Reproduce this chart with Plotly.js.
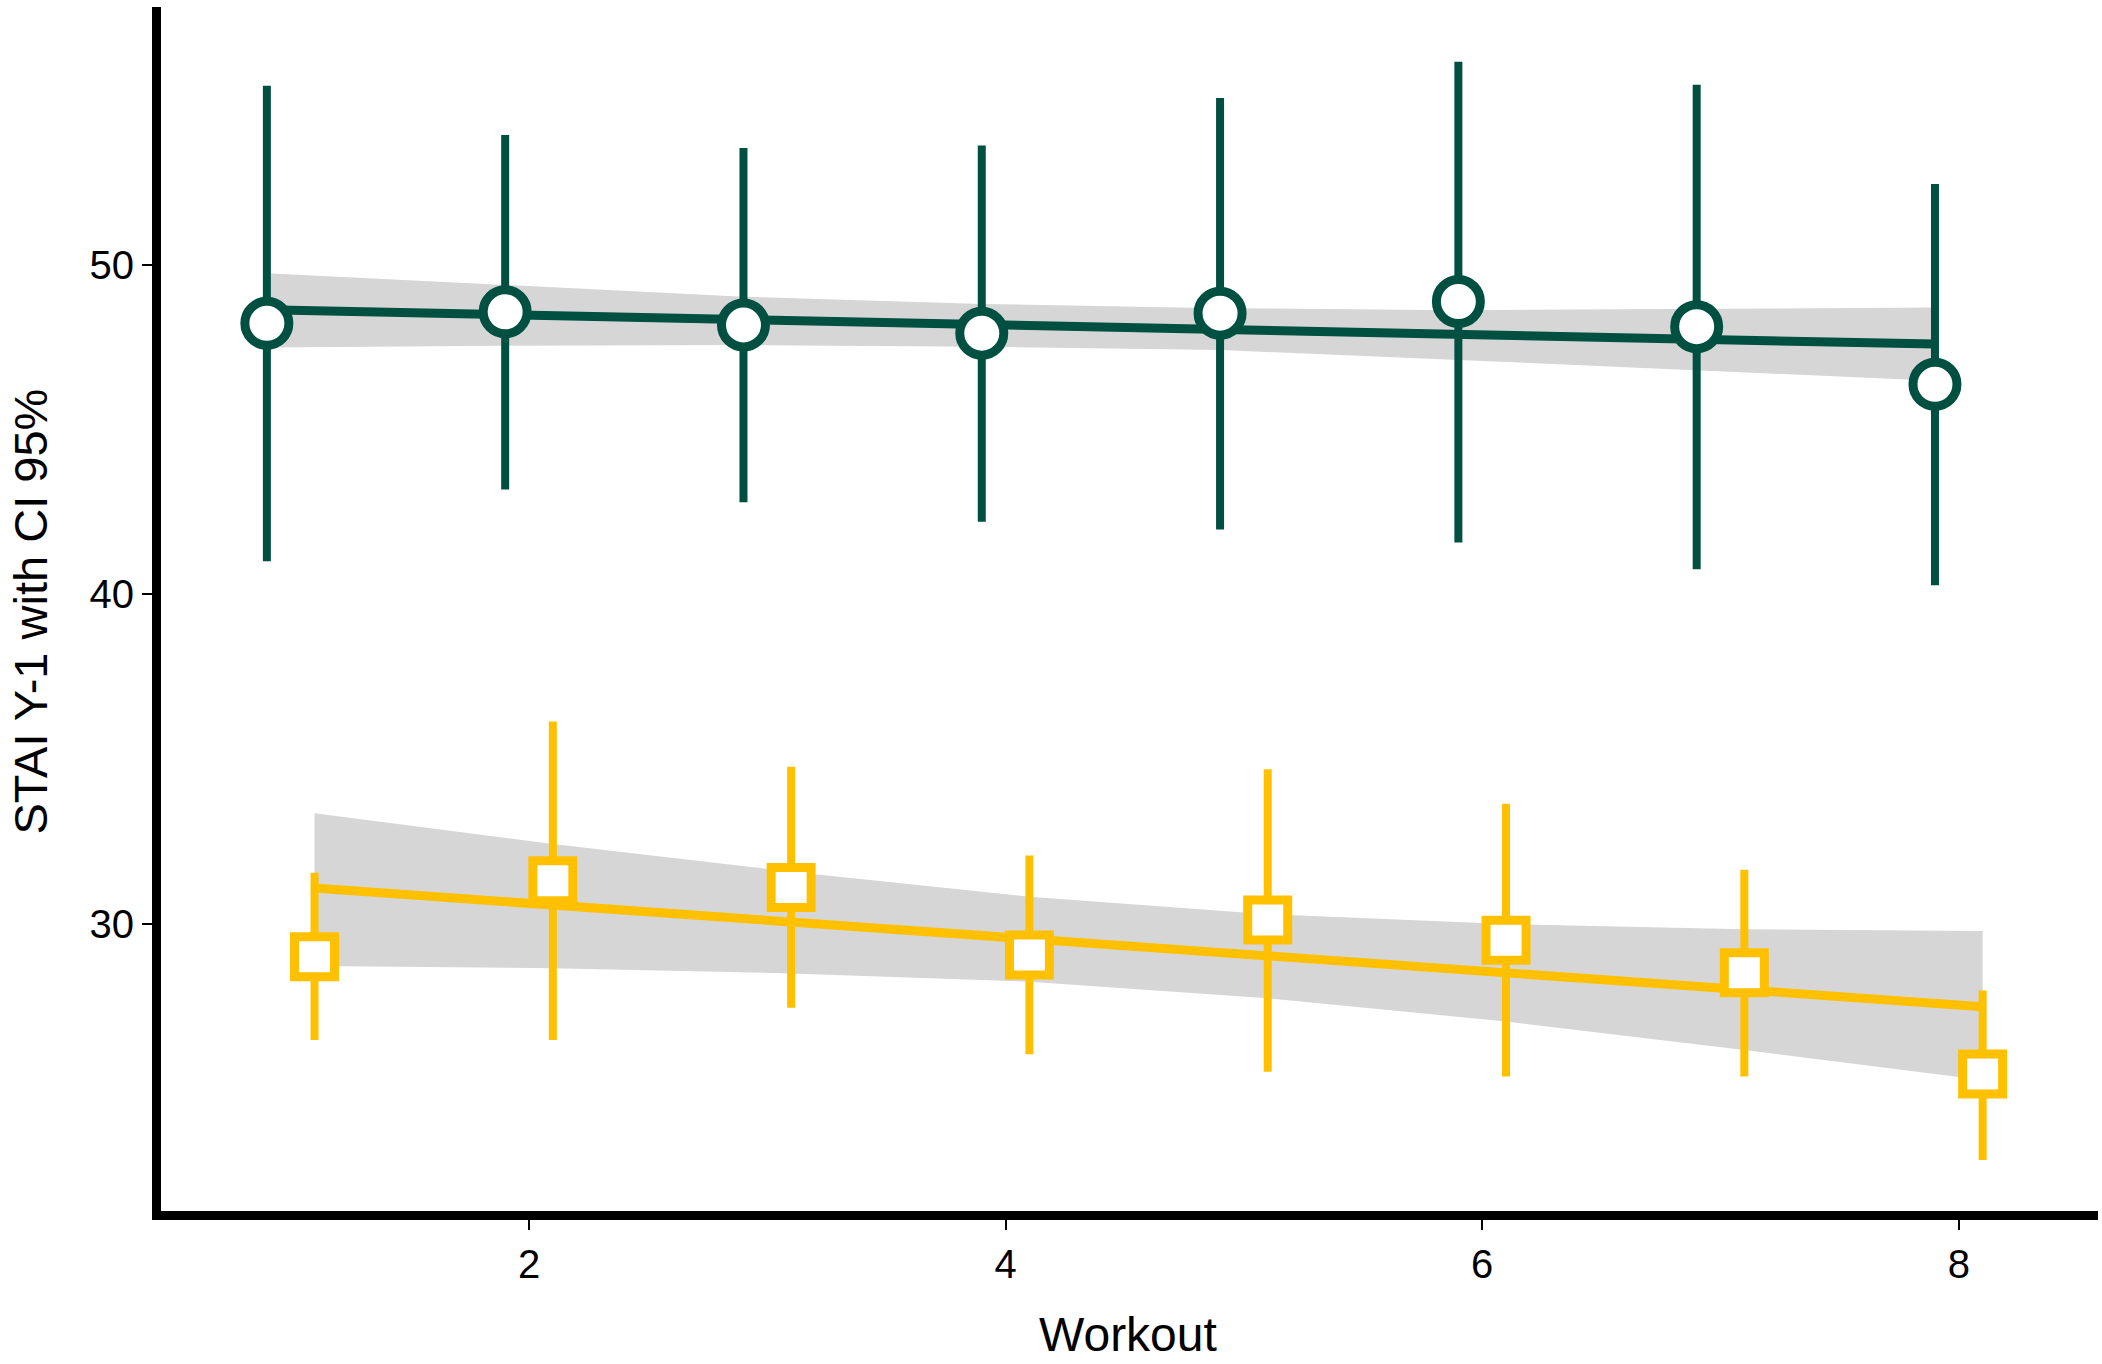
<!DOCTYPE html>
<html>
<head>
<meta charset="utf-8">
<script src="https://cdn.plot.ly/plotly-3.0.1.min.js"></script>
<style>
  html, body { margin: 0; padding: 0; background: #ffffff; }
  #chart { width: 2102px; height: 1364px; }
</style>
</head>
<body>
<div id="chart"></div>
<script>
// ---- Data ----
const workouts = [1, 2, 3, 4, 5, 6, 7, 8];

// Group A (dark green circles)
const greenMean = [48.22, 48.57, 48.17, 47.92, 48.53, 48.88, 48.12, 46.37];
const greenHi   = [55.43, 53.94, 53.54, 53.62, 55.06, 56.16, 55.46, 52.45];
const greenLo   = [41.00, 43.18, 42.79, 42.20, 41.96, 41.57, 40.76, 40.27];
const greenFitX = [1, 8];
const greenFitY = [48.63, 47.59];
const greenBandUpper = [49.74, 49.38, 49.03, 48.81, 48.68, 48.62, 48.65, 48.70];
const greenBandLower = [47.49, 47.54, 47.56, 47.51, 47.41, 47.11, 46.80, 46.48];

// Group B (yellow squares)
const yellowMean = [29.00, 31.30, 31.10, 29.05, 30.11, 29.50, 28.51, 25.44];
const yellowHi   = [31.55, 36.14, 34.76, 32.07, 34.69, 33.64, 31.64, 27.97];
const yellowLo   = [26.47, 26.47, 27.45, 26.04, 25.51, 25.36, 25.36, 22.83];
const yellowFitX = [1, 8];
const yellowFitY = [31.08, 27.48];
const yellowBandUpper = [33.35, 32.42, 31.58, 30.82, 30.29, 29.99, 29.83, 29.78];
const yellowBandLower = [28.72, 28.65, 28.49, 28.24, 27.74, 27.03, 26.17, 25.26];

const xTicks = [2, 4, 6, 8];
const yTicks = [30, 40, 50];

// ---- Styling ----
const GREEN = '#005041';
const YELLOW = '#FFC000';
const BAND = '#D6D6D6';
const FONT = 'Liberation Sans, Arial, Helvetica, sans-serif';
const dodge = 0.1;

const W = 2102, H = 1364;
const m = {l: 161, r: 4, t: 7, b: 153};
// pixel -> data calibration derived from reference tick positions
const px2x = p => (p - 52.4) / 238.3;
const px2y = p => 50 - (p - 264.7) / 32.95;

const shift = (arr, d) => arr.map(v => v + d);

function bandTrace(xs, up, lo) {
  return {
    x: xs.concat(xs.slice().reverse()),
    y: up.concat(lo.slice().reverse()),
    type: 'scatter', mode: 'lines', fill: 'toself',
    fillcolor: BAND, line: {width: 0, color: BAND},
    hoverinfo: 'skip', showlegend: false
  };
}

const gx = shift(workouts, -dodge);
const yx = shift(workouts, dodge);

const traces = [
  bandTrace(gx, greenBandUpper, greenBandLower),
  bandTrace(yx, yellowBandUpper, yellowBandLower),
  {
    x: shift(greenFitX, -dodge), y: greenFitY, type: 'scatter', mode: 'lines',
    line: {color: GREEN, width: 9}, showlegend: false
  },
  {
    x: shift(yellowFitX, dodge), y: yellowFitY, type: 'scatter', mode: 'lines',
    line: {color: YELLOW, width: 9}, showlegend: false
  },
  {
    x: gx, y: greenMean, type: 'scatter', mode: 'markers',
    marker: {symbol: 'circle', size: 44, color: '#ffffff', line: {color: GREEN, width: 9}},
    error_y: {type: 'data', symmetric: false,
      array: greenHi.map((v, i) => v - greenMean[i]),
      arrayminus: greenLo.map((v, i) => greenMean[i] - v),
      color: GREEN, thickness: 8, width: 0},
    showlegend: false
  },
  {
    x: yx, y: yellowMean, type: 'scatter', mode: 'markers',
    marker: {symbol: 'square', size: 40, color: '#ffffff', line: {color: YELLOW, width: 9}},
    error_y: {type: 'data', symmetric: false,
      array: yellowHi.map((v, i) => v - yellowMean[i]),
      arrayminus: yellowLo.map((v, i) => yellowMean[i] - v),
      color: YELLOW, thickness: 8, width: 0},
    showlegend: false
  }
];

const plotW = W - m.l - m.r, plotH = H - m.t - m.b;

const layout = {
  width: W, height: H,
  margin: m,
  paper_bgcolor: '#ffffff', plot_bgcolor: '#ffffff',
  font: {family: FONT, color: '#000000'},
  showlegend: false,
  xaxis: {
    range: [px2x(m.l), px2x(W - m.r)],
    tickvals: xTicks, ticktext: xTicks.map(String),
    ticks: 'outside', ticklen: 10, tickwidth: 2, tickcolor: '#000000',
    tickfont: {family: FONT, size: 40, color: '#000000'},
    showline: true, linecolor: '#000000', linewidth: 9,
    showgrid: false, zeroline: false
  },
  yaxis: {
    range: [px2y(H - m.b), px2y(m.t)],
    tickvals: yTicks, ticktext: yTicks.map(String),
    ticks: 'outside', ticklen: 10, tickwidth: 2, tickcolor: '#000000',
    tickfont: {family: FONT, size: 40, color: '#000000'},
    showline: true, linecolor: '#000000', linewidth: 9,
    showgrid: false, zeroline: false
  },
  annotations: [
    {
      text: 'Workout', xref: 'paper', yref: 'paper',
      x: (1128 - m.l) / plotW, y: ((H - m.b) - 1363) / plotH,
      xanchor: 'center', yanchor: 'bottom', showarrow: false,
      font: {family: FONT, size: 48, color: '#000000'}
    },
    {
      text: 'STAI Y-1 with CI 95%', xref: 'paper', yref: 'paper',
      x: (1 - m.l) / plotW, y: ((H - m.b) - 612) / plotH,
      xanchor: 'left', yanchor: 'middle', textangle: -90, showarrow: false,
      font: {family: FONT, size: 47, color: '#000000'}
    }
  ]
};

Plotly.newPlot('chart', traces, layout, {displayModeBar: false, staticPlot: true});
</script>
</body>
</html>
